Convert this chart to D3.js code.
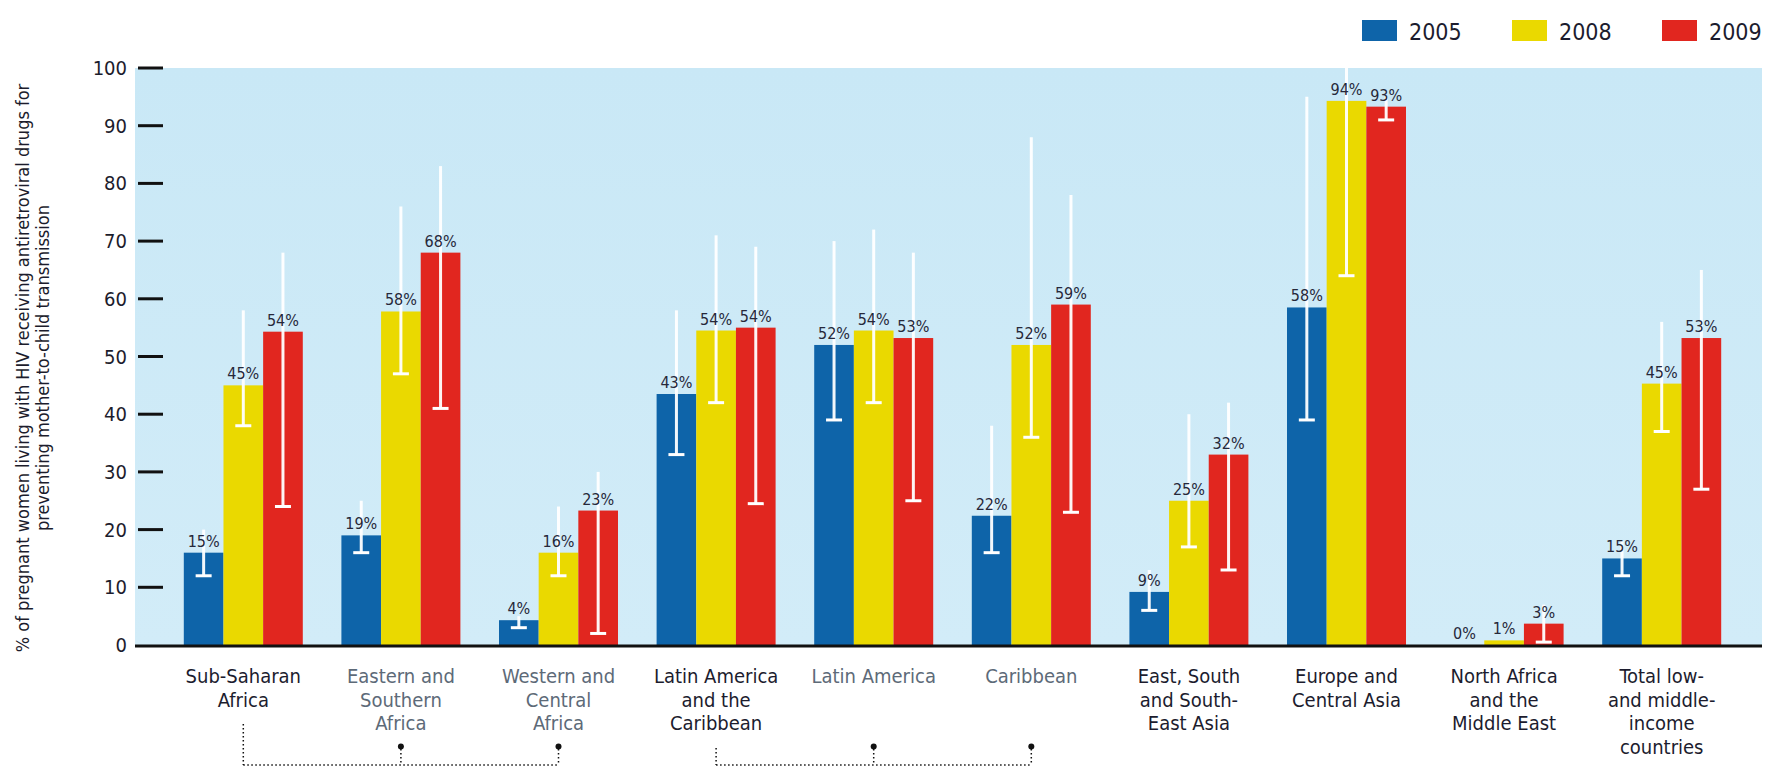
<!DOCTYPE html>
<html>
<head>
<meta charset="utf-8">
<script src="https://cdn.jsdelivr.net/npm/d3@7"></script>
<style>
  html, body { margin: 0; padding: 0; background: #ffffff; }
  svg { display: block; }
  text { font-family: "Liberation Sans Narrow", "DejaVu Sans Condensed", "Roboto", sans-serif; }
</style>
</head>
<body>
<svg id="chart" width="1769" height="774"></svg>
<script>
// ---------------- DATA ----------------
const categories = [
  "Sub-Saharan Africa", "Eastern and Southern Africa", "Western and Central Africa",
  "Latin America and the Caribbean", "Latin America", "Caribbean",
  "East, South and South-East Asia", "Europe and Central Asia",
  "North Africa and the Middle East", "Total low- and middle-income countries"
];
const categoryLines = [
  ["Sub-Saharan", "Africa"],
  ["Eastern and", "Southern", "Africa"],
  ["Western and", "Central", "Africa"],
  ["Latin America", "and the", "Caribbean"],
  ["Latin America"],
  ["Caribbean"],
  ["East, South", "and South-", "East Asia"],
  ["Europe and", "Central Asia"],
  ["North Africa", "and the", "Middle East"],
  ["Total low-", "and middle-", "income", "countries"]
];
const isSubregion = [false, true, true, false, true, true, false, false, false, false];

const series = ["2005", "2008", "2009"];
const seriesColors = ["#0e64a9", "#ead900", "#e1261f"];

const values2005 = [16, 19, 4.3, 43.5, 52, 22.4, 9.2, 58.5, 0, 15];
const values2008 = [45, 57.8, 16, 54.5, 54.5, 52, 25, 94.3, 0.8, 45.3];
const values2009 = [54.3, 68, 23.3, 55, 53.2, 59, 33, 93.3, 3.7, 53.2];

const labels2005 = ["15%", "19%", "4%", "43%", "52%", "22%", "9%", "58%", "0%", "15%"];
const labels2008 = ["45%", "58%", "16%", "54%", "54%", "52%", "25%", "94%", "1%", "45%"];
const labels2009 = ["54%", "68%", "23%", "54%", "53%", "59%", "32%", "93%", "3%", "53%"];

const low2005  = [12, 16, 3, 33, 39, 16, 6, 39, null, 12];
const high2005 = [20, 25, 5, 58, 70, 38, 13, 95, null, 18];
const low2008  = [38, 47, 12, 42, 42, 36, 17, 64, null, 37];
const high2008 = [58, 76, 24, 71, 72, 88, 40, 100, null, 56];
const low2009  = [24, 41, 2, 24.5, 25, 23, 13, 91, 0.5, 27];
const high2009 = [68, 83, 30, 69, 68, 78, 42, 95, 7, 65];

const yTicks = [0, 10, 20, 30, 40, 50, 60, 70, 80, 90, 100];
const yTitleLines = [
  "% of pregnant women living with HIV receiving antiretroviral drugs for",
  "preventing mother-to-child transmission"
];
// brackets: aggregate region -> its sub-regions
const brackets = [
  { parent: 0, children: [1, 2] },
  { parent: 3, children: [4, 5] }
];

// ---------------- CHART ----------------
const svg = d3.select("#chart");
const plotLeft = 135, plotRight = 1762, plotTop = 68, plotBottom = 645;

const x = d3.scaleBand().domain(categories)
  .range([164.5, 1740.5]).paddingInner(0.245).paddingOuter(0.1225);
const xSub = d3.scaleBand().domain(series).range([0, x.bandwidth()]).padding(0);
const y = d3.scaleLinear().domain([0, 100]).range([plotBottom, plotTop]);

// plot background
const defs = svg.append("defs");
const grad = defs.append("linearGradient").attr("id", "bg").attr("x1", 0).attr("y1", 0).attr("x2", 0).attr("y2", 1);
grad.append("stop").attr("offset", "0%").attr("stop-color", "#c9e8f6");
grad.append("stop").attr("offset", "100%").attr("stop-color", "#d2ecf8");
svg.append("rect").attr("x", plotLeft).attr("y", plotTop)
  .attr("width", plotRight - plotLeft).attr("height", plotBottom - plotTop)
  .attr("fill", "url(#bg)");

// y axis ticks and labels
const yAxisG = svg.append("g");
yAxisG.selectAll("line.tick").data(yTicks.filter(d => d > 0)).enter().append("line")
  .attr("class", "tick")
  .attr("x1", 138).attr("x2", 163)
  .attr("y1", d => y(d)).attr("y2", d => y(d))
  .attr("stroke", "#111").attr("stroke-width", 3);
yAxisG.selectAll("text").data(yTicks).enter().append("text")
  .attr("x", 127).attr("y", d => y(d) + 7)
  .attr("text-anchor", "end").attr("font-size", 20).attr("fill", "#1c1c2c")
  .text(d => d);

// y title
const yTitle = svg.append("g").attr("transform", "translate(0,368) rotate(-90)");
yTitle.selectAll("text").data(yTitleLines).enter().append("text")
  .attr("x", 0).attr("y", (d, i) => 29 + i * 20)
  .attr("text-anchor", "middle").attr("font-size", 18).attr("fill", "#1c1c2c")
  .text(d => d);

// bars
const seriesData = [
  { key: "2005", vals: values2005, labels: labels2005, lo: low2005, hi: high2005 },
  { key: "2008", vals: values2008, labels: labels2008, lo: low2008, hi: high2008 },
  { key: "2009", vals: values2009, labels: labels2009, lo: low2009, hi: high2009 }
];
const color = d3.scaleOrdinal().domain(series).range(seriesColors);

const flat = [];
seriesData.forEach(s => {
  categories.forEach((c, i) => {
    flat.push({ cat: c, key: s.key, v: s.vals[i], label: s.labels[i], lo: s.lo[i], hi: s.hi[i] });
  });
});

svg.append("g").selectAll("rect").data(flat).enter().append("rect")
  .attr("x", d => x(d.cat) + xSub(d.key))
  .attr("width", xSub.bandwidth())
  .attr("y", d => y(d.v))
  .attr("height", d => y(0) - y(d.v))
  .attr("fill", d => color(d.key));

// error bars
const eb = svg.append("g").selectAll("g").data(flat.filter(d => d.lo !== null)).enter().append("g");
eb.append("line")
  .attr("x1", d => x(d.cat) + xSub(d.key) + xSub.bandwidth() / 2)
  .attr("x2", d => x(d.cat) + xSub(d.key) + xSub.bandwidth() / 2)
  .attr("y1", d => y(d.lo)).attr("y2", d => y(d.hi))
  .attr("stroke", "#ffffff").attr("stroke-width", 3).attr("stroke-opacity", 0.95);
eb.append("line")
  .attr("x1", d => x(d.cat) + xSub(d.key) + xSub.bandwidth() / 2 - 8)
  .attr("x2", d => x(d.cat) + xSub(d.key) + xSub.bandwidth() / 2 + 8)
  .attr("y1", d => y(d.lo)).attr("y2", d => y(d.lo))
  .attr("stroke", "#ffffff").attr("stroke-width", 3);

// value labels
svg.append("g").selectAll("text").data(flat).enter().append("text")
  .attr("x", d => x(d.cat) + xSub(d.key) + xSub.bandwidth() / 2)
  .attr("y", d => y(d.v) - 6)
  .attr("text-anchor", "middle").attr("font-size", 16).attr("fill", "#26283a")
  .text(d => d.label);

// x axis line
svg.append("line").attr("x1", 135).attr("x2", plotRight)
  .attr("y1", y(0) + 1).attr("y2", y(0) + 1)
  .attr("stroke", "#111").attr("stroke-width", 3);

// category labels
const catG = svg.append("g").selectAll("text").data(categories).enter().append("text")
  .attr("text-anchor", "middle").attr("font-size", 20)
  .attr("fill", (d, i) => isSubregion[i] ? "#5d6a78" : "#1c1c2e");
catG.selectAll("tspan").data((d, i) => categoryLines[i].map(t => ({ t, c: d }))).enter().append("tspan")
  .attr("x", d => x(d.c) + x.bandwidth() / 2)
  .attr("y", (d, j) => 683 + j * 23.5)
  .text(d => d.t);

// brackets
const bG = svg.append("g").attr("stroke", "#111").attr("stroke-width", 1.5)
  .attr("stroke-dasharray", "1.5,2.5").attr("fill", "none");
const cx = i => x(categories[i]) + x.bandwidth() / 2;
brackets.forEach(b => {
  const nLines = categoryLines[b.parent].length;
  const topY = nLines >= 3 ? 748 : 724;
  const lastChild = b.children[b.children.length - 1];
  bG.append("line").attr("x1", cx(b.parent)).attr("x2", cx(b.parent)).attr("y1", topY).attr("y2", 765);
  bG.append("line").attr("x1", cx(b.parent)).attr("x2", cx(lastChild)).attr("y1", 765).attr("y2", 765);
  b.children.forEach(c => {
    bG.append("line").attr("x1", cx(c)).attr("x2", cx(c)).attr("y1", 749).attr("y2", 765);
    svg.append("circle").attr("cx", cx(c)).attr("cy", 746.5).attr("r", 3).attr("fill", "#111");
  });
});

// legend
const legendX = [1362, 1512, 1662];
const lg = svg.append("g").selectAll("g").data(series).enter().append("g")
  .attr("transform", (d, i) => `translate(${legendX[i]},20)`);
lg.append("rect").attr("width", 35).attr("height", 21).attr("fill", d => color(d));
lg.append("text").attr("x", 47).attr("y", 20).attr("font-size", 23).attr("fill", "#1c1c2e").text(d => d);
</script>
</body>
</html>
